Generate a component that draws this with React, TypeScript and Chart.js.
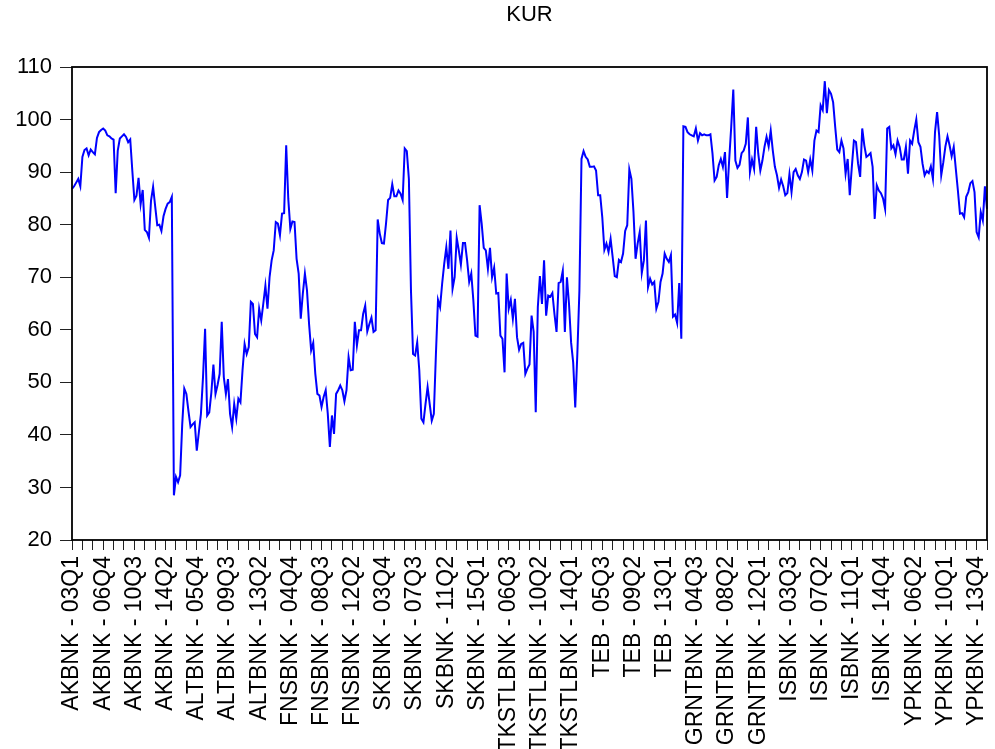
import React, { useEffect, useRef } from 'react';
import { Chart, registerables } from 'chart.js';

Chart.register(...registerables);

// Panel: nine banks, quarterly 2003Q1 - 2015Q1 (49 quarters each)
const banks = ['AKBNK', 'ALTBNK', 'FNSBNK', 'SKBNK', 'TKSTLBNK', 'TEB', 'GRNTBNK', 'ISBNK', 'YPKBNK'];

const quarters: string[] = [];
for (let y = 3; y <= 15; y++) {
  for (let q = 1; q <= 4; q++) {
    if (y === 15 && q > 1) break;
    quarters.push(`${String(y).padStart(2, '0')}Q${q}`);
  }
}

const akbnk = [86.8, 87.3, 88.0, 88.7, 87.3, 92.9, 94.2, 94.5, 93.2, 94.3, 93.8, 93.4, 96.5, 97.6, 98.0, 98.3, 97.9, 97.0, 96.8, 96.4, 96.2, 86.0, 94.1, 96.4, 96.8, 97.2, 96.7, 95.7, 96.2, 90.3, 84.7, 85.5, 88.9, 83.9, 86.6, 79.0, 78.6, 77.5, 84.6, 87.2, 83.5, 79.9, 80.0, 78.8, 81.6, 83.0, 84.0, 84.3, 85.3];
const altbnk = [28.5, 32.0, 31.0, 32.3, 42.0, 48.8, 47.8, 44.5, 41.5, 42.0, 42.4, 37.0, 40.5, 44.0, 51.0, 60.2, 43.7, 44.3, 48.0, 53.4, 47.8, 49.5, 51.6, 61.5, 51.0, 47.8, 50.6, 44.0, 41.5, 45.9, 43.1, 46.9, 46.2, 52.3, 57.3, 55.4, 56.7, 65.3, 64.9, 59.2, 58.6, 64.0, 61.8, 65.0, 68.4, 64.0, 70.0, 73.2, 75.1];
const fnsbnk = [80.5, 80.2, 78.0, 82.1, 82.2, 95.1, 84.9, 79.2, 80.6, 80.5, 73.5, 70.7, 62.1, 66.9, 70.7, 67.5, 61.1, 56.1, 57.5, 51.6, 47.8, 47.5, 45.3, 47.2, 48.5, 44.0, 37.7, 43.7, 40.2, 47.8, 48.5, 49.4, 48.5, 46.4, 48.5, 54.8, 52.3, 52.4, 61.5, 57.0, 59.9, 59.9, 63.0, 64.6, 59.7, 61.1, 62.3, 59.6, 59.9];
const skbnk = [81.0, 78.3, 76.5, 76.4, 80.2, 84.7, 85.1, 87.7, 85.4, 85.4, 86.5, 85.9, 84.7, 94.5, 94.0, 88.7, 67.5, 55.4, 55.1, 57.6, 52.3, 43.1, 42.4, 45.9, 49.1, 45.9, 42.7, 44.0, 55.4, 65.7, 64.3, 68.8, 72.6, 75.7, 71.6, 78.9, 67.8, 70.0, 77.5, 75.1, 72.4, 76.5, 76.5, 73.2, 69.1, 70.7, 65.6, 58.9, 58.7];
const tkstlbnk = [83.7, 80.2, 75.6, 75.1, 71.6, 75.6, 70.0, 71.8, 66.9, 67.0, 58.9, 58.3, 51.9, 70.7, 64.0, 65.7, 62.1, 65.9, 58.6, 56.2, 57.3, 57.5, 51.6, 52.6, 53.4, 62.7, 59.6, 44.3, 64.3, 70.2, 64.9, 73.2, 62.7, 66.5, 66.3, 67.0, 63.0, 59.6, 68.9, 69.1, 71.2, 59.6, 70.0, 64.9, 57.6, 53.8, 45.2, 55.4, 67.5];
const teb = [92.5, 94.0, 92.9, 92.4, 91.0, 91.0, 91.1, 90.3, 85.6, 85.6, 81.4, 75.2, 76.4, 74.8, 77.3, 73.8, 70.2, 70.0, 73.3, 72.9, 74.5, 78.8, 79.9, 90.5, 88.7, 82.4, 73.5, 76.4, 78.6, 70.8, 73.2, 80.8, 68.1, 69.7, 68.6, 69.1, 64.0, 65.3, 69.1, 70.7, 74.5, 73.5, 72.9, 74.2, 62.5, 62.9, 61.3, 68.9, 58.3];
const grntbnk = [98.7, 98.6, 97.6, 97.2, 97.0, 96.8, 98.3, 96.0, 97.4, 97.0, 97.2, 97.0, 97.0, 97.2, 93.5, 88.4, 89.1, 91.3, 92.5, 91.0, 93.8, 85.1, 92.2, 98.6, 105.7, 92.2, 90.8, 91.4, 93.6, 94.1, 95.4, 100.4, 90.0, 92.4, 90.6, 98.6, 93.5, 90.3, 92.2, 94.8, 96.7, 94.9, 97.9, 94.1, 91.0, 89.4, 87.0, 88.6, 87.3];
const isbnk = [85.6, 86.0, 89.6, 86.2, 90.0, 90.6, 89.4, 88.7, 90.0, 92.4, 92.2, 90.0, 92.4, 90.3, 96.0, 97.9, 97.6, 102.7, 101.8, 107.3, 101.2, 105.6, 104.9, 103.3, 98.6, 94.3, 93.8, 96.0, 94.5, 89.7, 92.5, 85.6, 91.0, 96.0, 95.7, 91.6, 89.1, 98.3, 95.1, 92.9, 93.2, 93.6, 91.0, 81.1, 87.5, 86.5, 86.0, 85.0, 83.0];
const ypkbnk = [98.3, 98.6, 94.5, 95.1, 93.4, 96.0, 94.8, 92.4, 92.4, 94.8, 89.7, 96.0, 95.4, 97.9, 100.0, 95.7, 94.8, 91.6, 89.4, 90.2, 89.8, 91.1, 88.7, 97.6, 101.4, 97.0, 89.4, 91.9, 94.9, 96.8, 95.1, 93.0, 94.8, 90.6, 86.5, 82.1, 82.2, 81.4, 85.3, 86.2, 87.9, 88.3, 86.2, 78.6, 77.6, 82.4, 80.8, 87.3, 83.0];

const kurByBank = [akbnk, altbnk, fnsbnk, skbnk, tkstlbnk, teb, grntbnk, isbnk, ypkbnk];

const labels: string[] = [];
banks.forEach((b) => quarters.forEach((q) => labels.push(`${b} - ${q}`)));
const kur: number[] = kurByBank.flat();

const yTicks = [20, 30, 40, 50, 60, 70, 80, 90, 100, 110];

const FONT = '"Liberation Sans", Arial, Helvetica, sans-serif';

// Draws the black box around the plotting area
const framePlugin = {
  id: 'frame',
  afterDraw(chart: any) {
    const { ctx, chartArea } = chart;
    ctx.save();
    ctx.strokeStyle = '#000';
    ctx.lineWidth = 1.8;
    ctx.strokeRect(chartArea.left, chartArea.top, chartArea.right - chartArea.left, chartArea.bottom - chartArea.top);
    ctx.restore();
  },
};

export default function App() {
  const ref = useRef<HTMLCanvasElement | null>(null);

  useEffect(() => {
    if (!ref.current) return;
    const chart = new Chart(ref.current, {
      type: 'line',
      data: {
        labels,
        datasets: [
          {
            label: 'KUR',
            data: kur,
            borderColor: '#0000FF',
            borderWidth: 2,
            pointRadius: 0,
            tension: 0,
            fill: false,
          },
        ],
      },
      options: {
        animation: false,
        responsive: false,
        devicePixelRatio: 1,
        layout: { padding: { top: 0, left: 0, right: 8, bottom: 0 } },
        plugins: {
          legend: { display: false },
          tooltip: { enabled: false },
          title: {
            display: true,
            text: 'KUR',
            fullSize: false,
            color: '#000',
            font: { family: FONT, size: 22, weight: 'normal' },
            padding: { top: 2, bottom: 38.6 },
          },
        },
        scales: {
          x: {
            type: 'category',
            offset: false,
            border: { display: false },
            grid: { drawOnChartArea: false, drawTicks: true, tickLength: 10, color: '#222', lineWidth: 1 },
            afterBuildTicks: (axis: any) => {
              axis.ticks = axis.ticks.filter((t: any) => t.value % 5 === 0);
            },
            afterFit: (axis: any) => {
              axis.height = 209;
              axis.paddingLeft = 0;
              axis.paddingRight = 0;
            },
            ticks: {
              autoSkip: false,
              maxRotation: 90,
              minRotation: 90,
              padding: 6,
              color: '#000',
              font: { family: FONT, size: 23 },
              callback: (value: any) => (Number(value) % 15 === 0 ? labels[Number(value)] : ''),
            },
          },
          y: {
            min: yTicks[0],
            max: yTicks[yTicks.length - 1],
            border: { display: false },
            grid: { drawOnChartArea: false, drawTicks: true, tickLength: 12, color: '#222', lineWidth: 1 },
            afterBuildTicks: (axis: any) => {
              axis.ticks = yTicks.map((v) => ({ value: v }));
            },
            afterFit: (axis: any) => {
              axis.width = 72;
              axis.paddingTop = 0;
              axis.paddingBottom = 0;
            },
            ticks: {
              padding: 8,
              color: '#000',
              font: { family: FONT, size: 22 },
            },
          },
        },
      },
      plugins: [framePlugin],
    });
    return () => chart.destroy();
  }, []);

  return (
    <div style={{ position: 'fixed', left: 0, top: 0, width: 995, height: 749, background: '#fff' }}>
      <canvas ref={ref} width={995} height={749} style={{ display: 'block' }} />
    </div>
  );
}
